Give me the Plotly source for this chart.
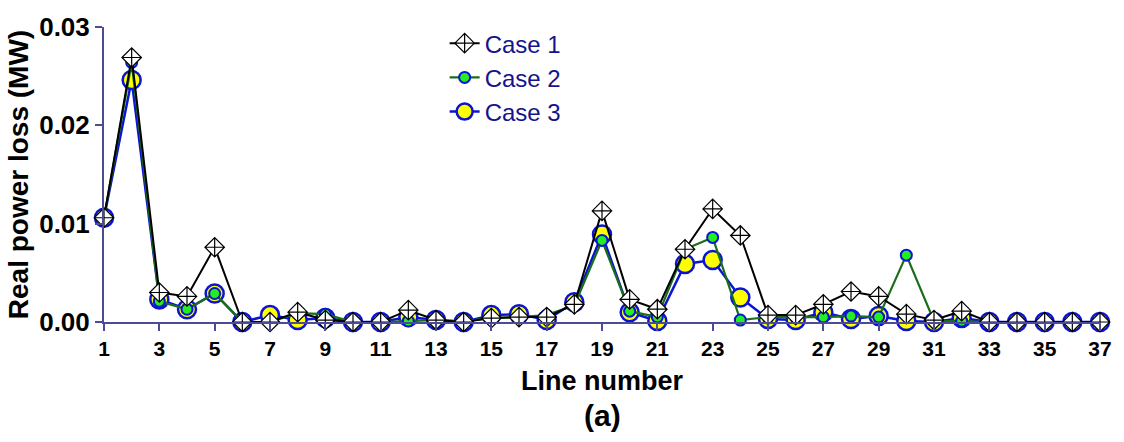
import plotly.graph_objects as go

lines = list(range(1, 38))

case1 = [0.0106, 0.0269, 0.0030, 0.0026, 0.0076, 0.0000, 0.0000, 0.0010, 0.0002, 0.0000,
         0.0000, 0.0012, 0.0002, 0.0000, 0.0004, 0.0005, 0.0005, 0.0018, 0.0113, 0.0023,
         0.0013, 0.0074, 0.0115, 0.0088, 0.0007, 0.0007, 0.0018, 0.0031, 0.0026, 0.0008,
         0.0002, 0.0011, 0.0000, 0.0000, 0.0000, 0.0000, 0.0000]
case2 = [0.0106, 0.0264, 0.0021, 0.0013, 0.0029, 0.0000, 0.0000, 0.0009, 0.0008, 0.0000,
         0.0000, 0.0001, 0.0002, 0.0001, 0.0004, 0.0005, 0.0007, 0.0017, 0.0083, 0.0011,
         0.0005, 0.0074, 0.0086, 0.0002, 0.0005, 0.0005, 0.0005, 0.0006, 0.0005, 0.0068,
         0.0001, 0.0001, 0.0000, 0.0000, 0.0000, 0.0000, 0.0000]
case3 = [0.0106, 0.0246, 0.0023, 0.0013, 0.0029, 0.0000, 0.0007, 0.0002, 0.0004, 0.0000,
         0.0000, 0.0005, 0.0002, 0.0000, 0.0007, 0.0008, 0.0002, 0.0020, 0.0089, 0.0010,
         0.0001, 0.0059, 0.0063, 0.0025, 0.0003, 0.0002, 0.0010, 0.0003, 0.0006, 0.0001,
         0.0000, 0.0004, 0.0000, 0.0000, 0.0000, 0.0000, 0.0000]

x_ticks = list(range(1, 38, 2))
y_ticks = [0.00, 0.01, 0.02, 0.03]

AXIS = "#4b4b96"
NAVY = "#14148c"
BLUE = "#0a14d2"
FONT = "Arial, Liberation Sans, sans-serif"

fig = go.Figure()

fig.add_trace(go.Scatter(
    x=lines, y=case3, name="Case 3", mode="lines+markers", legendrank=3,
    line=dict(color=BLUE, width=2.5),
    marker=dict(symbol="circle", size=18, color="#ffff00", line=dict(color=BLUE, width=2.5)),
    cliponaxis=False,
))
fig.add_trace(go.Scatter(
    x=lines, y=case2, name="Case 2", mode="lines+markers", legendrank=2,
    line=dict(color="#1a6e1a", width=2.2),
    marker=dict(symbol="circle", size=11, color="#22ee22", line=dict(color=BLUE, width=2)),
    cliponaxis=False,
))
fig.add_trace(go.Scatter(
    x=lines, y=case1, name="Case 1", mode="lines+markers", legendrank=1,
    line=dict(color="black", width=2),
    marker=dict(symbol="diamond-cross", size=15, color="white", line=dict(color="black", width=1.2)),
    cliponaxis=False,
))

fig.update_layout(
    width=1124, height=442,
    margin=dict(l=104, r=23, t=17, b=120),
    paper_bgcolor="white", plot_bgcolor="white",
    font=dict(family=FONT, color="black"),
    showlegend=True,
    legend=dict(
        x=0.342, y=1.02, xanchor="left", yanchor="top",
        bgcolor="rgba(0,0,0,0)", borderwidth=0,
        font=dict(size=24, color=NAVY, family=FONT),
        itemwidth=30, tracegroupgap=0,
    ),
    xaxis=dict(
        range=[1, 37], tickmode="array", tickvals=x_ticks,
        ticktext=["<b>%d</b>" % v for v in x_ticks],
        showgrid=False, zeroline=False, showline=True,
        linecolor=AXIS, linewidth=2, ticks="outside", tickcolor=AXIS,
        ticklen=7, tickwidth=2,
        tickfont=dict(size=21, family=FONT, color="black"),
    ),
    yaxis=dict(
        range=[0, 0.03], tickmode="array", tickvals=y_ticks,
        ticktext=["<b>%.2f</b>" % v for v in y_ticks],
        showgrid=False, zeroline=False, showline=True,
        linecolor=AXIS, linewidth=2, ticks="outside", tickcolor=AXIS,
        ticklen=7, tickwidth=2,
        tickfont=dict(size=26, family=FONT, color="black"),
        title=dict(text="<b>Real power loss (MW)</b>", standoff=2,
                   font=dict(size=28, color="black")),
    ),
    annotations=[
        dict(text="<b>Line number</b>", xref="paper", yref="paper", x=0.5, y=-0.2,
             xanchor="center", yanchor="middle", showarrow=False,
             font=dict(size=27, color="black")),
        dict(text="<b>(a)</b>", xref="paper", yref="paper", x=0.5, y=-0.318,
             xanchor="center", yanchor="middle", showarrow=False,
             font=dict(size=30, color="black")),
    ],
)

fig.write_html("out.html")
